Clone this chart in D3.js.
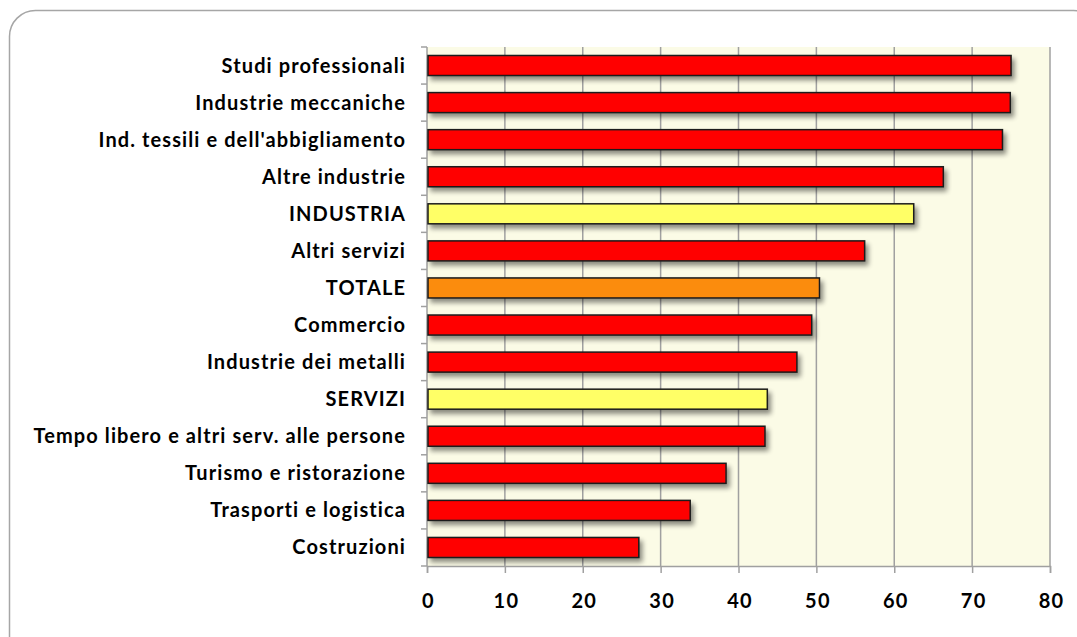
<!DOCTYPE html>
<html><head><meta charset="utf-8">
<script src="https://cdn.jsdelivr.net/npm/d3@7"></script>
<style>body{margin:0;background:#fff;} svg{display:block;}</style>
</head><body>
<svg id="c" width="1077" height="637"></svg>
<script>
const categories = ["Studi professionali","Industrie meccaniche","Ind. tessili e dell'abbigliamento","Altre industrie","INDUSTRIA","Altri servizi","TOTALE","Commercio","Industrie dei metalli","SERVIZI","Tempo libero e altri serv. alle persone","Turismo e ristorazione","Trasporti e logistica","Costruzioni"];
const values = [75.0, 74.9, 73.9, 66.3, 62.5, 56.2, 50.4, 49.4, 47.5, 43.7, 43.4, 38.4, 33.8, 27.2];
const kinds = ["s","s","s","s","g","s","t","s","s","g","s","s","s","s"];
const xTicks = [0,10,20,30,40,50,60,70,80];
const colorOf = {s:"#ff0000", g:"#ffff66", t:"#fb8c11"};

const svg = d3.select("#c");
const defs = svg.append("defs");
const f = defs.append("filter").attr("id","sh").attr("x","-10%").attr("y","-50%").attr("width","130%").attr("height","250%");
f.append("feGaussianBlur").attr("in","SourceAlpha").attr("stdDeviation",2.5).attr("result","b");
f.append("feOffset").attr("in","b").attr("dx",3).attr("dy",4).attr("result","o");
f.append("feComponentTransfer").attr("in","o").attr("result","oa").append("feFuncA").attr("type","linear").attr("slope",0.45);
const m = f.append("feMerge"); m.append("feMergeNode").attr("in","oa"); m.append("feMergeNode").attr("in","SourceGraphic");

svg.append("rect").attr("x",9.5).attr("y",10.5).attr("width",1090).attr("height",660).attr("rx",26)
  .attr("fill","#fff").attr("stroke","#a6a6a6").attr("stroke-width",1.5);

const L=427, R=1050, T=47, B=566;
const x = d3.scaleLinear().domain([0,80]).range([L,R]);
const y = d3.scaleBand().domain(categories).range([T,B]).paddingInner(0.46).paddingOuter(0.23);

svg.append("rect").attr("x",L).attr("y",T).attr("width",R-L).attr("height",B-T).attr("fill","#fbfbe6");
svg.append("g").selectAll("line").data(xTicks.slice(1)).join("line")
  .attr("x1",d=>x(d)).attr("x2",d=>x(d)).attr("y1",T).attr("y2",B)
  .attr("stroke","#a0a0a0").attr("stroke-width",1.5);

const fontFam = "Lato, 'Open Sans', sans-serif";
// x axis
const xa = svg.append("g").attr("transform",`translate(0,${B})`).call(d3.axisBottom(x).tickValues(xTicks).tickSize(7).tickPadding(21));
xa.select(".domain").attr("stroke","#a0a0a0").attr("stroke-width",1.5);
xa.selectAll(".tick line").attr("stroke","#a0a0a0").attr("stroke-width",1.5);
xa.selectAll("text").attr("font-family",fontFam).attr("font-weight","bold").attr("font-size",20)
  .attr("letter-spacing",1.2).attr("dx",1).attr("fill","#000");

// y axis with ticks between categories
const yBounds = d3.range(categories.length+1).map(i=>T+i*(B-T)/categories.length);
const ya = svg.append("g");
ya.append("line").attr("x1",L).attr("x2",L).attr("y1",T).attr("y2",B).attr("stroke","#a0a0a0").attr("stroke-width",1.5);
ya.selectAll("line.t").data(yBounds).join("line").attr("class","t")
  .attr("x1",L-6).attr("x2",L).attr("y1",d=>d).attr("y2",d=>d).attr("stroke","#a0a0a0").attr("stroke-width",1.5);
ya.selectAll("text").data(categories).join("text")
  .attr("x",406).attr("y",d=>y(d)+y.bandwidth()/2).attr("dy","0.35em")
  .attr("text-anchor","end").attr("font-family",fontFam).attr("font-weight","bold").attr("font-size",20)
  .attr("letter-spacing",1.1)
  .text(d=>d);

// bars
svg.append("g").selectAll("rect").data(categories).join("rect")
  .attr("x",x(0)+1).attr("y",d=>y(d)).attr("height",y.bandwidth())
  .attr("width",(d,i)=>x(values[i])-x(0)-1)
  .attr("fill",(d,i)=>colorOf[kinds[i]]).attr("stroke","#1a1a1a").attr("stroke-width",1.5)
  .attr("filter","url(#sh)");
</script>
</body></html>
